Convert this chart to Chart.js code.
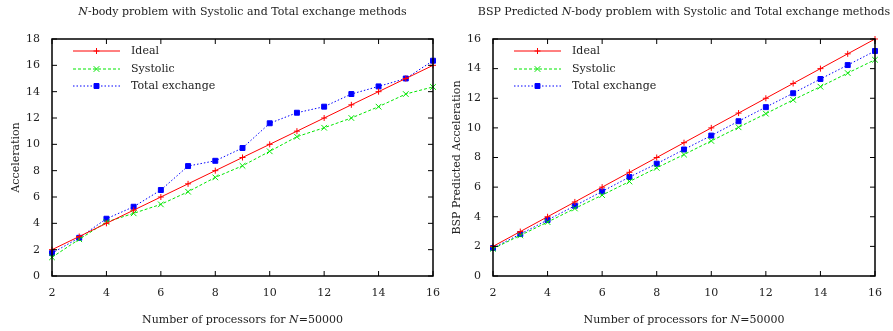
<!DOCTYPE html>
<html lang="en">
<head>
    <meta charset="UTF-8">
    <title>N-body Systolic / Total exchange</title>
    <script src="https://cdn.jsdelivr.net/npm/chart.js@4/dist/chart.umd.min.js"></script>
    <style>
        body { margin: 0; background: #fff; }
        .box { position: absolute; top: 0; }
    </style>
</head>
<body>
<div class="box" style="left:0"><canvas id="leftChart" width="446" height="331"></canvas></div>
<div class="box" style="left:446px"><canvas id="rightChart" width="447" height="331"></canvas></div>
<script>

    const procs = [2, 3, 4, 5, 6, 7, 8, 9, 10, 11, 12, 13, 14, 15, 16];

    // measured acceleration
    const idealMeasured = [2, 3, 4, 5, 6, 7, 8, 9, 10, 11, 12, 13, 14, 15, 16];
    const systolicMeasured = [1.42, 2.79, 4.1, 4.76, 5.44, 6.4, 7.49, 8.37, 9.47, 10.58, 11.26, 12.0, 12.86, 13.82, 14.36];
    const totalMeasured = [1.74, 2.9, 4.35, 5.26, 6.53, 8.35, 8.75, 9.72, 11.6, 12.4, 12.86, 13.82, 14.4, 15.0, 16.35];

    // BSP predicted acceleration
    const idealPredicted = [2, 3, 4, 5, 6, 7, 8, 9, 10, 11, 12, 13, 14, 15, 16];
    const systolicPredicted = [1.84, 2.74, 3.64, 4.56, 5.46, 6.38, 7.3, 8.2, 9.12, 10.04, 10.96, 11.89, 12.78, 13.7, 14.6];
    const totalPredicted = [1.89, 2.83, 3.78, 4.74, 5.71, 6.68, 7.58, 8.54, 9.48, 10.45, 11.4, 12.34, 13.3, 14.24, 15.19];

    const seriesNames = ["Ideal", "Systolic", "Total exchange"];
    const xTicks = [2, 4, 6, 8, 10, 12, 14, 16];

    const lineColors = ["#ff0000", "#00e600", "#0000ff"];
    const lineDashes = [[], [3, 2], [1.5, 2]];
    const markers = [["cross", 3], ["crossRot", 4], ["rect", 3.5]];

    const serif = "'DejaVu Serif', 'Liberation Serif', serif";
    const textColor = "#222";

    function series(i, ys) {
        return {
            label: seriesNames[i],
            data: procs.map((p, k) => ({x: p, y: ys[k]})),
            borderColor: lineColors[i],
            backgroundColor: lineColors[i],
            pointBorderColor: lineColors[i],
            pointBackgroundColor: lineColors[i],
            borderWidth: 1,
            borderDash: lineDashes[i],
            pointStyle: markers[i][0],
            pointRadius: markers[i][1],
            pointBorderWidth: 1,
            pointHoverRadius: markers[i][1],
            tension: 0,
            clip: 8
        };
    }

    // draws text made of parts, some italic, centred on cx
    function richText(ctx, parts, cx, cy, size) {
        let total = 0;
        parts.forEach(p => {
            ctx.font = (p.it ? "italic " : "") + size + "px " + serif;
            p.w = ctx.measureText(p.t).width;
            total += p.w;
        });
        let x = cx - total / 2;
        ctx.textAlign = "left";
        ctx.textBaseline = "middle";
        parts.forEach(p => {
            ctx.font = (p.it ? "italic " : "") + size + "px " + serif;
            ctx.fillText(p.t, x, cy);
            x += p.w;
        });
    }

    function legendRow(ctx, a, i) {
        const ly = Math.round(a.top + 12 + i * 17.5);
        const x0 = a.left + 21, x1 = a.left + 68;
        ctx.save();
        ctx.lineWidth = 1;
        ctx.strokeStyle = lineColors[i];
        ctx.fillStyle = lineColors[i];
        ctx.setLineDash(lineDashes[i].slice());
        ctx.beginPath();
        ctx.moveTo(x0, ly);
        ctx.lineTo(x1, ly);
        ctx.stroke();
        ctx.setLineDash([]);
        Chart.helpers.drawPoint(ctx, {
            pointStyle: markers[i][0], radius: markers[i][1], rotation: 0, borderWidth: 1
        }, (x0 + x1) / 2, ly);
        ctx.restore();

        ctx.save();
        ctx.fillStyle = textColor;
        ctx.font = "11px " + serif;
        ctx.textAlign = "left";
        ctx.textBaseline = "middle";
        ctx.fillText(seriesNames[i], a.left + 79, ly);
        ctx.restore();
    }

    const gnuplotFrame = {
        id: "gnuplotFrame",
        afterDraw(chart, args, opts) {
            const ctx = chart.ctx;
            const a = chart.chartArea;
            const xs = chart.scales.x, ys = chart.scales.y;

            // legend inside the plot
            seriesNames.forEach((name, i) => legendRow(ctx, a, i));

            ctx.save();
            // box + inward ticks on all sides
            ctx.strokeStyle = "#000";
            ctx.lineWidth = 1.5;
            ctx.strokeRect(a.left, a.top, a.right - a.left, a.bottom - a.top);
            ctx.lineWidth = 1;
            ctx.beginPath();
            xs.ticks.forEach(t => {
                const px = xs.getPixelForValue(t.value);
                ctx.moveTo(px, a.bottom); ctx.lineTo(px, a.bottom - 5);
                ctx.moveTo(px, a.top); ctx.lineTo(px, a.top + 5);
            });
            ys.ticks.forEach(t => {
                const py = ys.getPixelForValue(t.value);
                ctx.moveTo(a.left, py); ctx.lineTo(a.left + 5, py);
                ctx.moveTo(a.right, py); ctx.lineTo(a.right - 5, py);
            });
            ctx.stroke();

            // titles with italic N
            ctx.fillStyle = textColor;
            const cx = (a.left + a.right) / 2;
            richText(ctx, opts.title, cx, 12.5, 11);
            richText(ctx, [{t: "Number of processors for "}, {t: "N", it: true}, {t: "=50000"}], cx, 320, 11);
            ctx.restore();
        }
    };

    function makeChart(id, sets, yMax, yTitle, title, pad, yWidth, titlePad) {
        return new Chart(id, {
            type: "line",
            data: {
                datasets: [series(0, sets[0]), series(1, sets[1]), series(2, sets[2])]
            },
            options: {
                responsive: false,
                animation: false,
                layout: {padding: {top: 39, left: 0, right: pad, bottom: 0}},
                plugins: {
                    legend: {display: false},
                    tooltip: {enabled: false},
                    gnuplotFrame: {title: title}
                },
                scales: {
                    x: {
                        type: "linear",
                        min: 2,
                        max: 16,
                        afterBuildTicks: s => { s.ticks = xTicks.map(v => ({value: v})); },
                        afterFit: s => { s.height = 55; },
                        grid: {display: false},
                        border: {display: false},
                        ticks: {padding: 3, color: textColor, font: {family: serif, size: 11}, maxRotation: 0}
                    },
                    y: {
                        min: 0,
                        max: yMax,
                        afterFit: s => { s.width = yWidth; },
                        grid: {display: false},
                        border: {display: false},
                        ticks: {stepSize: 2, padding: 4, color: textColor, font: {family: serif, size: 11}},
                        title: {display: true, text: yTitle, color: textColor, font: {family: serif, size: 11}, padding: {top: titlePad, bottom: 0}}
                    }
                }
            },
            plugins: [gnuplotFrame]
        });
    }

    makeChart("leftChart", [idealMeasured, systolicMeasured, totalMeasured], 18, "Acceleration",
        [{t: "N", it: true}, {t: "-body problem with Systolic and Total exchange methods"}], 13, 52, 10);

    makeChart("rightChart", [idealPredicted, systolicPredicted, totalPredicted], 16, "BSP Predicted Acceleration",
        [{t: "BSP Predicted "}, {t: "N", it: true}, {t: "-body problem with Systolic and Total exchange methods"}], 18, 47, 5);
</script>
</body>
</html>
